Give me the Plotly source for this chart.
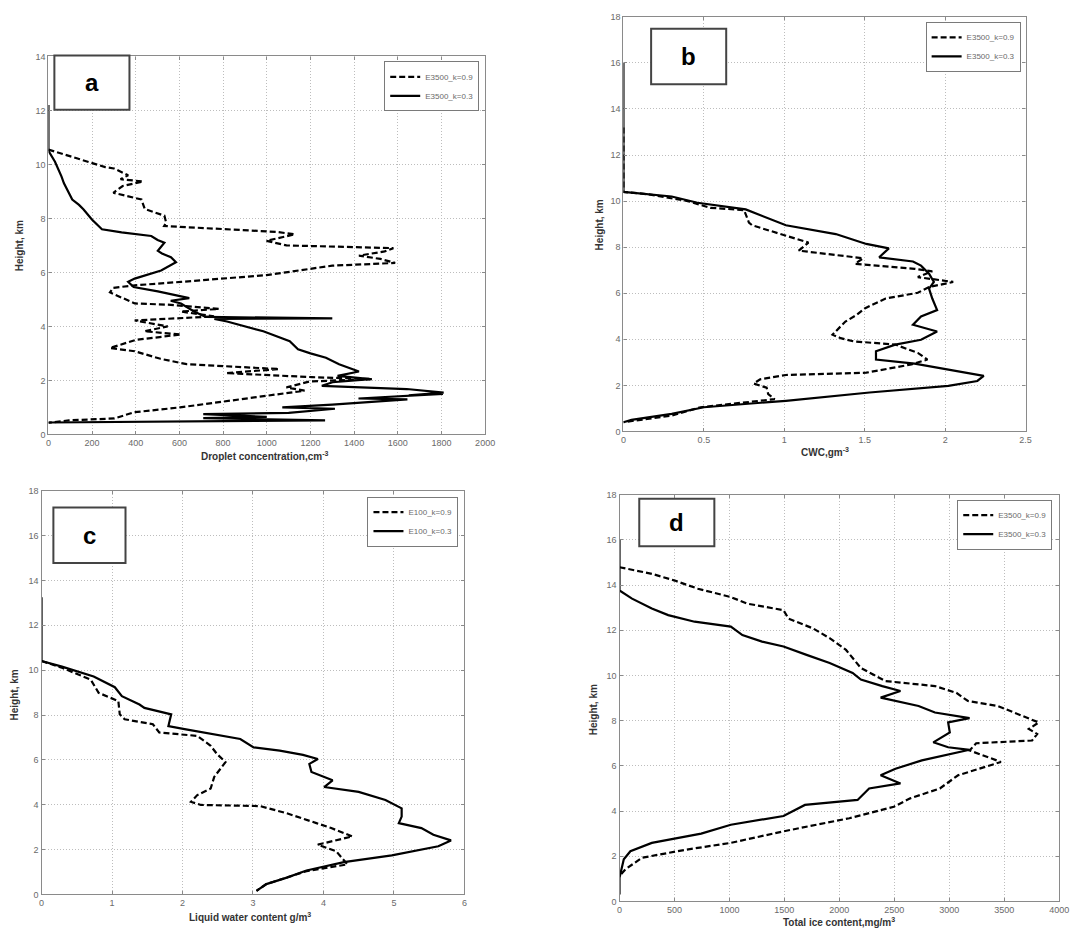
import plotly.graph_objects as go

# ---------------- data ----------------
# Panel a: droplet concentration (cm^-3) vs height (km)
a_dash_x = [0, 200, 260, 300, 365, 330, 433, 340, 297, 426, 441, 531, 539, 530, 1045, 1128, 999, 1090,
            1580, 1540, 1422, 1520, 1588, 1300, 999, 607, 395, 297, 282, 395, 561, 780, 607, 758, 395,
            546, 440, 607, 400, 282, 395, 513, 633, 1056, 814, 1207, 1482, 1195, 1090, 1173, 845, 603,
            392, 302, 94, 0]
a_dash_y = [10.55, 10.05, 9.9, 9.85, 9.6, 9.45, 9.37, 9.2, 8.95, 8.7, 8.35, 8.1, 7.85, 7.72, 7.5, 7.41,
            7.17, 7.0, 6.9, 6.78, 6.62, 6.5, 6.35, 6.25, 5.9, 5.65, 5.52, 5.43, 5.26, 4.85, 4.8, 4.65,
            4.55, 4.37, 4.22, 4.0, 3.82, 3.7, 3.5, 3.2, 3.08, 2.8, 2.6, 2.42, 2.27, 2.12, 2.05, 1.96,
            1.74, 1.62, 1.25, 1.0, 0.82, 0.59, 0.52, 0.43]
a_solid_x = [0, 0, 30, 48, 60, 71, 90, 109, 140, 161, 199, 245, 335, 471, 500, 531, 501, 520, 561, 584,
             516, 450, 395, 365, 390, 501, 645, 560, 607, 667, 720, 1300, 760, 818, 900, 984, 1105, 1143,
             1200, 1271, 1331, 1422, 1324, 1475, 1301, 1252, 1641, 1810, 1650, 1807, 1420, 1644, 1300,
             1071, 1312, 1100, 709, 1000, 709, 1267, 0]
a_solid_y = [12.2, 10.5, 10.1, 9.8, 9.55, 9.3, 9.0, 8.7, 8.5, 8.33, 7.96, 7.6, 7.48, 7.35, 7.2, 7.1,
             6.8, 6.7, 6.56, 6.38, 6.07, 5.92, 5.77, 5.65, 5.46, 5.3, 5.05, 4.95, 4.85, 4.55, 4.35, 4.3,
             4.28, 4.18, 4.0, 3.82, 3.45, 3.15, 3.0, 2.84, 2.6, 2.33, 2.17, 2.05, 1.93, 1.8, 1.68, 1.55,
             1.45, 1.5, 1.33, 1.3, 1.1, 1.0, 0.95, 0.8, 0.75, 0.65, 0.6, 0.52, 0.44]

# Panel b: CWC (g m^-3) vs height (km)
b_dash_x = [0, 0, 0.15, 0.4, 0.54, 0.75, 0.78, 0.8, 1.15, 1.09, 1.49, 1.44, 1.81, 1.92, 1.83, 2.05,
            1.9, 1.83, 1.63, 1.5, 1.45, 1.38, 1.35, 1.3, 1.35, 1.43, 1.69, 1.83, 1.89, 1.79, 1.51,
            1.01, 0.85, 0.81, 0.89, 0.9, 0.94, 0.48, 0.3, 0.09, 0]
b_dash_y = [13.2, 10.4, 10.3, 10.0, 9.71, 9.61, 9.07, 8.95, 8.2, 7.85, 7.52, 7.28, 7.06, 6.95, 6.7,
            6.49, 6.27, 6.02, 5.77, 5.34, 5.06, 4.77, 4.56, 4.2, 4.05, 3.91, 3.77, 3.41, 3.12, 2.91,
            2.55, 2.45, 2.26, 2.08, 1.9, 1.62, 1.4, 1.05, 0.69, 0.5, 0.4]
b_solid_x = [0, 0, 0.3, 0.46, 0.76, 1.01, 1.32, 1.51, 1.65, 1.59, 1.8, 1.85, 1.9, 1.93, 1.9, 1.92,
             1.95, 1.85, 1.8, 1.95, 1.85, 1.69, 1.57, 1.57, 1.81, 2.02, 2.24, 2.2, 2.02, 1.53, 1.01,
             0.5, 0.3, 0.05, 0]
b_solid_y = [16.0, 10.4, 10.2, 9.93, 9.64, 8.95, 8.57, 8.14, 7.95, 7.56, 7.38, 7.2, 6.85, 6.49, 6.2,
             5.77, 5.27, 4.99, 4.63, 4.34, 3.98, 3.77, 3.48, 3.12, 2.94, 2.69, 2.41, 2.19, 1.98, 1.69,
             1.33, 1.05, 0.76, 0.5, 0.4]

# Panel c: liquid water content (g/m^3) vs height (km)
c_dash_x = [0, 0.3, 0.7, 0.81, 1.09, 1.11, 1.18, 1.58, 1.67, 2.21, 2.4, 2.49, 2.61, 2.45, 2.4, 2.21,
            2.12, 2.26, 3.1, 3.48, 3.9, 4.11, 4.41, 3.92, 4.18, 4.34, 3.76, 3.48, 3.19, 3.05]
c_dash_y = [10.41, 10.1, 9.57, 8.99, 8.62, 8.03, 7.81, 7.59, 7.22, 7.07, 6.63, 6.26, 5.9, 5.24, 4.72,
            4.43, 4.13, 3.99, 3.94, 3.62, 3.18, 2.96, 2.59, 2.22, 1.93, 1.34, 1.04, 0.75, 0.46, 0.16]
c_solid_x = [0, 0, 0.29, 0.74, 1.04, 1.14, 1.39, 1.46, 1.84, 1.8, 2.03, 2.82, 3.01, 3.38, 3.71, 3.92,
             3.8, 3.83, 4.13, 4.01, 4.5, 4.88, 5.11, 5.11, 5.07, 5.39, 5.56, 5.81, 5.63, 4.97, 4.29,
             3.76, 3.48, 3.19, 3.05]
c_solid_y = [13.25, 10.41, 10.16, 9.72, 9.24, 8.84, 8.47, 8.32, 8.03, 7.51, 7.37, 6.93, 6.56, 6.41,
             6.22, 6.04, 5.82, 5.46, 5.09, 4.79, 4.57, 4.21, 3.84, 3.47, 3.18, 2.96, 2.66, 2.41, 2.15,
             1.74, 1.44, 1.07, 0.75, 0.46, 0.16]

# Panel d: total ice content (mg/m^3) vs height (km)
d_dash_x = [0, 294, 503, 713, 1013, 1162, 1492, 1537, 1762, 1912, 2061, 2196, 2421, 2870, 3065, 3170,
            3440, 3814, 3724, 3800, 3754, 3245, 3185, 3470, 3080, 2915, 2645, 2496, 2091, 1702, 1492,
            1013, 608, 204, 54, 0]
d_dash_y = [14.79, 14.5, 14.2, 13.84, 13.47, 13.18, 12.89, 12.52, 12.08, 11.65, 11.13, 10.33, 9.75,
            9.53, 9.23, 8.87, 8.65, 7.92, 7.63, 7.41, 7.12, 7.0, 6.68, 6.17, 5.58, 5.0, 4.56, 4.19,
            3.68, 3.32, 3.1, 2.59, 2.29, 1.93, 1.42, 1.13]
d_solid_x = [0, 0, 114, 294, 443, 683, 1013, 1118, 1297, 1492, 1702, 1912, 2121, 2196, 2391, 2556,
             2376, 2721, 2870, 3185, 2990, 3005, 2855, 2990, 3185, 2990, 2751, 2511, 2376, 2556, 2271,
             2166, 1687, 1492, 1013, 743, 294, 99, 39, 0, 0]
d_solid_y = [16.0, 13.76, 13.4, 12.96, 12.67, 12.38, 12.16, 11.79, 11.5, 11.28, 10.91, 10.55, 10.11,
             9.82, 9.53, 9.31, 9.02, 8.65, 8.36, 8.11, 7.92, 7.48, 7.04, 6.82, 6.71, 6.49, 6.24, 5.87,
             5.58, 5.22, 5.0, 4.49, 4.27, 3.78, 3.39, 3.0, 2.59, 2.22, 1.86, 1.05, 0.3]

legend_names_e3500 = ["E3500_k=0.9", "E3500_k=0.3"]
legend_names_e100 = ["E100_k=0.9", "E100_k=0.3"]
panel_letters = ["a", "b", "c", "d"]
x_titles = ["Droplet concentration,cm<sup>-3</sup>", "CWC,gm<sup>-3</sup>",
            "Liquid water content g/m<sup>3</sup>", "Total ice content,mg/m<sup>3</sup>"]

# ---------------- layout geometry (pixels) ----------------
W, H = 1082, 940


def fx(px):
    return px / W


def fy(py):
    return 1 - py / H


panels = [
    dict(px=(46, 488), py=(52, 434), xr=[0, 2000], xd=200, yr=[0, 14],
         data=(a_dash_x, a_dash_y, a_solid_x, a_solid_y), names=legend_names_e3500,
         box=(52, 51, 128, 106), leg=(482, 57), ytit=(17, 243), xtit=(265, 456)),
    dict(px=(628, 1035), py=(12, 431), xr=[0, 2.5], xd=0.5, yr=[0, 18],
         data=(b_dash_x, b_dash_y, b_solid_x, b_solid_y), names=legend_names_e3500,
         box=(656, 24, 732, 80), leg=(1030, 17), ytit=(604, 222), xtit=(832, 452)),
    dict(px=(39, 467), py=(491, 899), xr=[0, 6], xd=1, yr=[0, 18],
         data=(c_dash_x, c_dash_y, c_solid_x, c_solid_y), names=legend_names_e100,
         box=(51, 508, 124, 564), leg=(461, 497), ytit=(12, 697), xtit=(250, 922)),
    dict(px=(624, 1069), py=(495, 906), xr=[0, 4000], xd=500, yr=[0, 18],
         data=(d_dash_x, d_dash_y, d_solid_x, d_solid_y), names=legend_names_e3500,
         box=(644, 499, 720, 547), leg=(1062, 500), ytit=(598, 712), xtit=(846, 927)),
]

fig = go.Figure()
shapes = []
annotations = []
FONT = "Arial, Liberation Sans, sans-serif"

for i, p in enumerate(panels):
    n = "" if i == 0 else str(i + 1)
    xa, ya = "x" + n, "y" + n
    lg = "legend" + n
    dx, dy, sx, sy = p["data"]
    fig.add_trace(go.Scatter(x=dx, y=dy, mode="lines", name=p["names"][0], xaxis=xa, yaxis=ya,
                             legend=lg, line=dict(color="black", width=2.2, dash="6px,3px")))
    fig.add_trace(go.Scatter(x=sx, y=sy, mode="lines", name=p["names"][1], xaxis=xa, yaxis=ya,
                             legend=lg, line=dict(color="black", width=2.2)))
    axis_common = dict(showgrid=True, gridcolor="#bdbdbd", griddash="1px,2px", gridwidth=1,
                       showline=True, linecolor="#8a8a8a", linewidth=1.2, mirror="ticks",
                       ticks="inside", ticklen=3, tickcolor="#8a8a8a", zeroline=False,
                       tickfont=dict(family=FONT, size=9, color="#6a6a6a"))
    fig.layout["xaxis" + n] = dict(domain=[fx(p["px"][0]), fx(p["px"][1])], range=p["xr"],
                                   dtick=p["xd"], tick0=0, anchor=ya, **axis_common)
    fig.layout["yaxis" + n] = dict(domain=[fy(p["py"][1]), fy(p["py"][0])], range=p["yr"],
                                   dtick=2, tick0=0, anchor=xa, **axis_common)
    fig.layout[lg] = dict(x=fx(p["leg"][0]), y=fy(p["leg"][1]), xanchor="right", yanchor="top",
                          xref="paper", yref="paper", bgcolor="white", bordercolor="#7a7a7a",
                          borderwidth=1, font=dict(family=FONT, size=8, color="#6a6a6a"),
                          tracegroupgap=0, itemwidth=30)
    bx0, by0, bx1, by1 = p["box"]
    shapes.append(dict(type="rect", xref="paper", yref="paper", x0=fx(bx0), x1=fx(bx1),
                       y0=fy(by1), y1=fy(by0), line=dict(color="#444444", width=2),
                       fillcolor="white", layer="above"))
    annotations.append(dict(text="<b>" + panel_letters[i] + "</b>", xref="paper", yref="paper",
                            x=fx((bx0 + bx1) / 2), y=fy((by0 + by1) / 2), showarrow=False,
                            xanchor="center", yanchor="middle",
                            font=dict(family=FONT, size=24, color="black")))
    annotations.append(dict(text="<b>Height, km</b>", xref="paper", yref="paper",
                            x=fx(p["ytit"][0]), y=fy(p["ytit"][1]), textangle=-90, showarrow=False,
                            xanchor="center", yanchor="middle",
                            font=dict(family=FONT, size=10, color="#333333")))
    annotations.append(dict(text="<b>" + x_titles[i] + "</b>", xref="paper", yref="paper",
                            x=fx(p["xtit"][0]), y=fy(p["xtit"][1]), showarrow=False,
                            xanchor="center", yanchor="middle",
                            font=dict(family=FONT, size=10, color="#333333")))

fig.update_layout(width=W, height=H, margin=dict(l=0, r=0, t=0, b=0), paper_bgcolor="white",
                  plot_bgcolor="white", shapes=shapes, annotations=annotations, showlegend=True)

fig.write_html("out.html")
